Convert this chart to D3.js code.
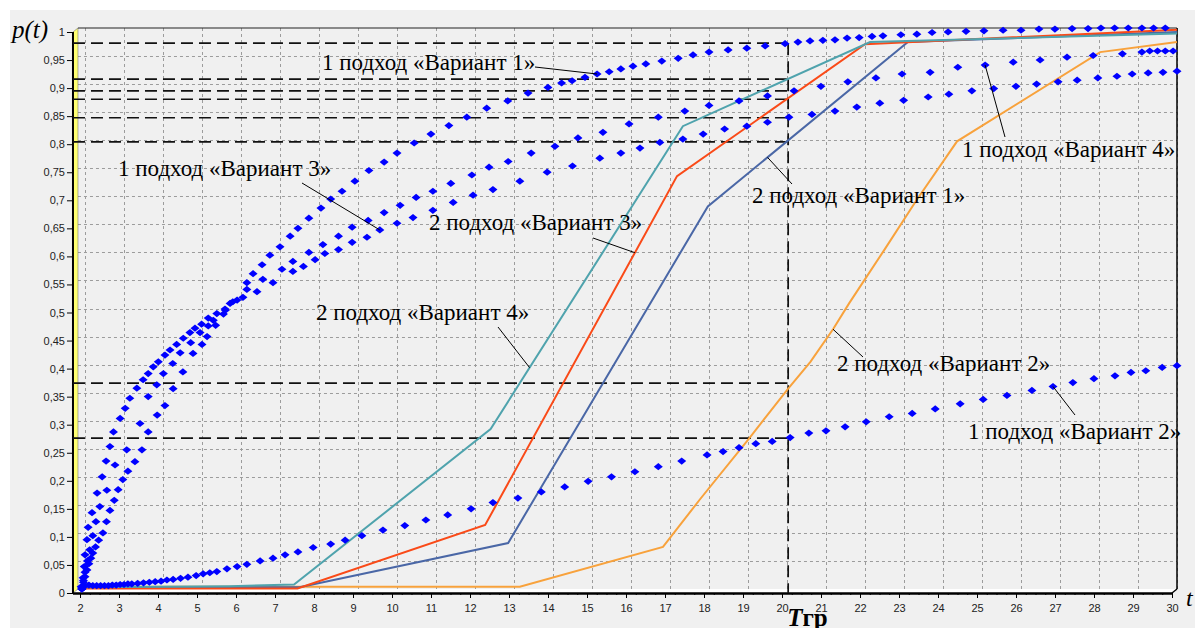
<!DOCTYPE html>
<html>
<head>
<meta charset="utf-8">
<script src="https://d3js.org/d3.v7.min.js"></script>
<style>
body { margin:0; background:#fff; }
svg { display:block; }
.tick text { font-family: "Liberation Sans", Arial, sans-serif; font-size:11px; fill:#222; }
.note { font-family: "Liberation Serif", "Times New Roman", serif; font-size:23px; fill:#000; }
</style>
</head>
<body>
<svg width="1200" height="628"></svg>
<script>
// tick labels
var xTicks = [2,3,4,5,6,7,8,9,10,11,12,13,14,15,16,17,18,19,20,21,22,23,24,25,26,27,28,29,30];
var yTicks = [0,0.05,0.1,0.15,0.2,0.25,0.3,0.35,0.4,0.45,0.5,0.55,0.6,0.65,0.7,0.75,0.8,0.85,0.9,0.95,1];

// 1 подход (markers): [t, p(t)]
var a1v1 = [[1.92,0],[1.96,0.012],[2,0.022],[2.05,0.034],[2.1,0.045],[2.15,0.055],[2.2,0.064],[2.27,0.075],[2.35,0.087],[2.46,0.1],[2.55,0.12],[2.64,0.14],[2.75,0.158],[2.85,0.177],[2.97,0.195],[3.1,0.21],[3.28,0.227],[3.46,0.248],[3.62,0.28],[3.85,0.31],[4.05,0.327],[4.26,0.357],[4.51,0.387],[4.77,0.42],[5,0.436],[5.13,0.45],[5.35,0.47],[5.55,0.49],[5.79,0.512],[6.15,0.546],[6.31,0.562],[6.54,0.578],[6.74,0.595],[7,0.61],[7.26,0.629],[7.46,0.643],[7.74,0.661],[8.05,0.679],[8.3,0.695],[8.59,0.709],[8.92,0.727],[9.28,0.746],[9.67,0.761],[10,0.777],[10.44,0.795],[10.87,0.811],[11.33,0.826],[11.79,0.841],[12.3,0.857],[12.84,0.87],[13.36,0.884],[13.87,0.894],[14.22,0.902],[14.49,0.906],[14.82,0.912],[15.13,0.918],[15.44,0.922],[15.74,0.927],[16.05,0.932],[16.38,0.936],[16.79,0.941],[17.21,0.946],[17.59,0.952],[18,0.957],[18.49,0.961],[18.97,0.964],[19.44,0.968],[19.95,0.972],[20.28,0.975],[20.59,0.977],[20.92,0.978],[21.23,0.979],[21.54,0.982],[21.85,0.983],[22.18,0.985],[22.46,0.986],[22.92,0.988],[23.33,0.989],[23.72,0.992],[24.13,0.993],[24.59,0.994],[25.05,0.995],[25.54,0.996],[26,0.996],[26.46,0.998],[26.87,0.998],[27.31,0.999],[27.72,0.999],[28.05,1],[28.4,1],[28.75,1],[29.1,1],[29.4,1],[29.7,1]];
var a1v2 = [[1.9,0.004],[2,0.006],[2.1,0.007],[2.2,0.006],[2.3,0.006],[2.4,0.006],[2.5,0.006],[2.6,0.006],[2.7,0.007],[2.8,0.007],[2.9,0.008],[3,0.008],[3.1,0.009],[3.2,0.009],[3.35,0.01],[3.5,0.011],[3.65,0.012],[3.8,0.013],[3.95,0.014],[4.1,0.016],[4.26,0.017],[4.45,0.019],[4.64,0.021],[4.85,0.024],[5.03,0.027],[5.2,0.029],[5.38,0.031],[5.64,0.036],[5.9,0.04],[6.15,0.044],[6.49,0.05],[6.82,0.055],[7.13,0.061],[7.46,0.066],[7.85,0.074],[8.3,0.08],[8.67,0.087],[9.1,0.095],[9.64,0.105],[10.2,0.113],[10.74,0.123],[11.3,0.132],[11.9,0.143],[12.46,0.154],[13.1,0.162],[13.7,0.173],[14.3,0.182],[14.9,0.192],[15.5,0.2],[16.1,0.209],[16.7,0.218],[17.3,0.228],[17.95,0.239],[18.36,0.245],[18.77,0.252],[19.2,0.259],[19.62,0.263],[20.08,0.27],[20.56,0.278],[21,0.282],[21.49,0.289],[22.03,0.298],[22.62,0.307],[23.21,0.313],[23.8,0.321],[24.44,0.33],[25.03,0.338],[25.64,0.345],[26.28,0.354],[26.82,0.361],[27.33,0.368],[27.87,0.375],[28.41,0.38],[28.82,0.386],[29.2,0.389],[29.62,0.395],[30,0.398]];
var a1v3 = [[1.92,0],[1.95,0.02],[1.98,0.04],[2,0.061],[2.05,0.088],[2.08,0.11],[2.18,0.136],[2.31,0.171],[2.44,0.2],[2.54,0.228],[2.64,0.254],[2.73,0.28],[2.9,0.304],[3.03,0.322],[3.15,0.34],[3.33,0.358],[3.49,0.373],[3.62,0.384],[3.75,0.396],[3.88,0.405],[4.05,0.417],[4.18,0.426],[4.35,0.436],[4.52,0.447],[4.69,0.457],[4.82,0.465],[4.99,0.472],[5.16,0.483],[5.38,0.491],[5.59,0.499],[5.72,0.509],[6.05,0.52],[6.41,0.53],[6.82,0.546],[7.33,0.566],[7.6,0.575],[7.9,0.587],[8.15,0.598],[8.5,0.605],[8.85,0.618],[9.23,0.627],[9.56,0.64],[10,0.652],[10.41,0.662],[10.92,0.675],[11.44,0.689],[11.95,0.702],[12.46,0.712],[13.15,0.727],[13.85,0.743],[14.5,0.754],[15.2,0.768],[15.74,0.777],[16.23,0.786],[16.74,0.796],[17.33,0.802],[17.85,0.811],[18.4,0.82],[18.97,0.825],[19.5,0.832],[20.05,0.841],[20.64,0.846],[21.23,0.852],[21.79,0.859],[22.38,0.866],[22.99,0.871],[23.62,0.877],[24.15,0.882],[24.74,0.888],[25.3,0.892],[25.87,0.896],[26.4,0.9],[26.95,0.904],[27.44,0.907],[27.97,0.911],[28.46,0.914],[28.85,0.918],[29.26,0.92],[29.64,0.921],[30,0.923]];
var a1v4 = [[1.92,0],[1.96,0.015],[2,0.03],[2.06,0.05],[2.12,0.07],[2.2,0.095],[2.28,0.12],[2.38,0.147],[2.56,0.176],[2.77,0.221],[3.07,0.248],[3.41,0.295],[3.62,0.343],[3.84,0.364],[4.01,0.384],[4.25,0.402],[4.44,0.421],[4.71,0.439],[4.95,0.457],[5.16,0.469],[5.29,0.479],[5.6,0.497],[5.9,0.515],[6.15,0.534],[6.56,0.552],[7.05,0.57],[7.33,0.584],[7.74,0.6],[8.1,0.614],[8.5,0.629],[8.85,0.645],[9.26,0.657],[9.67,0.671],[10.08,0.684],[10.49,0.698],[10.92,0.709],[11.38,0.723],[11.92,0.738],[12.36,0.752],[12.85,0.762],[13.44,0.777],[14.05,0.789],[14.64,0.804],[15.28,0.814],[15.95,0.829],[16.7,0.841],[17.38,0.852],[18,0.862],[18.77,0.87],[19.5,0.879],[20.18,0.888],[20.87,0.896],[21.56,0.904],[22.28,0.911],[22.95,0.918],[23.67,0.921],[24.38,0.93],[25.08,0.934],[25.8,0.939],[26.49,0.943],[27.18,0.948],[27.85,0.951],[28.6,0.954],[29.1,0.957],[29.3,0.959],[29.5,0.959],[29.7,0.959],[29.9,0.959]];

// 2 подход (lines)
var a2v1 = [[2,0.003],[7.5,0.003],[12.85,0.082],[17.97,0.682],[23.1,0.975],[30,0.993]];
var a2v2 = [[2,0.004],[13.15,0.004],[16.82,0.075],[17.77,0.16],[19,0.266],[20.03,0.357],[20.6,0.405],[21.18,0.463],[21.6,0.51],[22.5,0.605],[23.32,0.693],[24.36,0.798],[28.03,0.957],[30,0.975]];
var a2v3 = [[2,0.001],[7.45,0.001],[12.26,0.114],[17.18,0.736],[22,0.971],[30,0.997]];
var a2v4 = [[2,0.003],[5.7,0.005],[7.36,0.008],[12.4,0.285],[17.33,0.825],[22.13,0.975],[30,0.99]];

// Tгр and the read-off levels
var tgr = 20.03;
var levels = [0.973,0.909,0.888,0.873,0.84,0.797,0.367,0.269];

var svg = d3.select("svg");
var x = d3.scaleLinear().domain([2,30]).range([85,1177]);
var y = d3.scaleLinear().domain([0,1]).range([589,28]);
var dx = -5, dy = 4; // depth of the 3D front
var L = x(1.82), R = x(30), T = y(1), B = y(0);

svg.append("rect").attr("x",10).attr("y",10).attr("width",1185).attr("height",618).attr("fill","#f0f0f0");

// grid
var grid = svg.append("g").attr("stroke","#9c9c9c").attr("stroke-dasharray","3,3").attr("stroke-width",1);
grid.selectAll("line.v").data(xTicks).enter().append("line")
  .attr("x1",d=>x(d)+0.5).attr("x2",d=>x(d)+0.5).attr("y1",T).attr("y2",B);
grid.selectAll("line.h").data(yTicks.slice(0,-1)).enter().append("line")
  .attr("x1",L).attr("x2",R).attr("y1",d=>Math.round(y(d))+0.5).attr("y2",d=>Math.round(y(d))+0.5);

// walls and floor
svg.append("polygon").attr("points",[[L,B],[R,B],[R+dx,B+dy],[L+dx,B+dy]].join(" ")).attr("fill","#fff");
svg.append("polygon").attr("points",[[L+dx,T+dy],[L,T],[L,B],[L+dx,B+dy]].join(" ")).attr("fill","#ffff70").attr("stroke","#777").attr("stroke-width",0.6);
svg.append("line").attr("x1",L+dx).attr("x2",L+dx).attr("y1",T+dy).attr("y2",B+dy+1).attr("stroke","#000").attr("stroke-width",2);
svg.append("line").attr("x1",L+dx).attr("x2",R+dx).attr("y1",B+dy+0.5).attr("y2",B+dy+0.5).attr("stroke","#000").attr("stroke-width",2.5);
svg.append("line").attr("x1",L).attr("x2",R).attr("y1",T).attr("y2",T).attr("stroke","#222").attr("stroke-width",1);
svg.append("line").attr("x1",R).attr("x2",R).attr("y1",T).attr("y2",B).attr("stroke","#000").attr("stroke-width",1.5);
svg.append("line").attr("x1",R).attr("x2",R+dx).attr("y1",B).attr("y2",B+dy).attr("stroke","#000").attr("stroke-width",1.5);

// axes
var comma = d3.formatLocale({decimal:",", thousands:" ", grouping:[3], currency:["",""]}).format(".2~f");
svg.append("g").attr("transform","translate("+(L+dx)+","+dy+")")
  .call(d3.axisLeft(y).tickValues(yTicks).tickSize(6).tickPadding(2).tickFormat(comma));
svg.append("g").attr("transform","translate("+dx+","+(B+dy)+")")
  .call(d3.axisBottom(x).tickValues(xTicks).tickSize(5).tickPadding(6).tickFormat(d3.format("d")));
var minor = d3.range(2,30,0.25).filter(d=>d%1!==0);
svg.append("g").attr("transform","translate("+dx+","+(B+dy)+")")
  .call(d3.axisBottom(x).tickValues(minor).tickSize(2).tickFormat(""));
svg.selectAll(".domain").remove();
svg.selectAll(".tick line").attr("stroke","#000");

// reference lines
var ref = svg.append("g").attr("stroke","#111").attr("stroke-width",1.7).attr("stroke-dasharray","12,6");
ref.selectAll("line").data(levels).enter().append("line")
  .attr("x1",L+dx).attr("x2",x(tgr)).attr("y1",d=>y(d)).attr("y2",d=>y(d));
ref.append("line").attr("x1",x(tgr)).attr("x2",x(tgr)).attr("y1",y(levels[0])).attr("y2",B+dy);

// 2 подход lines
var line = d3.line().x(d=>x(d[0])).y(d=>y(d[1]));
var lines = [[a2v2,"#f8a23c"],[a2v1,"#4a67a6"],[a2v3,"#fa4a18"],[a2v4,"#4fa3ad"]];
lines.forEach(function(s){
  svg.append("path").datum(s[0]).attr("d",line).attr("fill","none").attr("stroke",s[1]).attr("stroke-width",2);
});

// 1 подход markers
var diamond = "M-4.5,0L0,-3.6L4.5,0L0,3.6Z";
[a1v2,a1v3,a1v4,a1v1].forEach(function(s){
  svg.append("g").selectAll("path").data(s).enter().append("path")
    .attr("d",diamond).attr("fill","#0000ff")
    .attr("transform",d=>"translate("+x(d[0])+","+y(d[1])+")");
});

// notes with leaders
function interp(s,t){
  for (var i=1;i<s.length;i++) if (t<=s[i][0]) {
    var a=s[i-1], b=s[i]; return [t, a[1]+(b[1]-a[1])*(t-a[0])/(b[0]-a[0])];
  }
  return s[s.length-1];
}
function nearest(s,t){ return s.reduce((m,d)=>Math.abs(d[0]-t)<Math.abs(m[0]-t)?d:m); }
var notes = [
  {text:"1 подход «Вариант 1»", tx:322, ty:70, from:[535,67], to:nearest(a1v1,15.13)},
  {text:"1 подход «Вариант 3»", tx:118, ty:176, from:[302,183], to:nearest(a1v3,9.56)},
  {text:"2 подход «Вариант 3»", tx:429, ty:230, from:[593,238], to:interp(a2v3,16.1)},
  {text:"2 подход «Вариант 4»", tx:316, ty:320, from:[498,327], to:interp(a2v4,13.4)},
  {text:"2 подход «Вариант 1»", tx:752, ty:203, from:[792,184], to:interp(a2v1,19.5)},
  {text:"1 подход «Вариант 4»", tx:962, ty:157, from:[1005,137], to:nearest(a1v4,25.08)},
  {text:"2 подход «Вариант 2»", tx:837, ty:371, from:[863,357], to:interp(a2v2,21.18)},
  {text:"1 подход «Вариант 2»", tx:968, ty:439, from:[1075,415], to:nearest(a1v2,26.82)}
];
notes.forEach(function(n){
  svg.append("line").attr("x1",n.from[0]).attr("y1",n.from[1]).attr("x2",x(n.to[0])).attr("y2",y(n.to[1]))
    .attr("stroke","#000").attr("stroke-width",1);
  svg.append("text").attr("class","note").attr("x",n.tx).attr("y",n.ty).text(n.text);
});

// axis titles
svg.append("text").attr("x",12).attr("y",38).style("font-family","'Liberation Serif', serif")
  .style("font-style","italic").style("font-size","25px").text("p(t)");
svg.append("text").attr("x",1186).attr("y",606).style("font-family","'Liberation Serif', serif")
  .style("font-style","italic").style("font-size","24px").text("t");
var tg = svg.append("text").attr("x",x(tgr)-1).attr("y",626).style("font-family","'Liberation Serif', serif")
  .style("font-weight","bold").style("font-size","25px");
tg.append("tspan").style("font-style","italic").text("T");
tg.append("tspan").text("гр");
</script>
</body>
</html>
